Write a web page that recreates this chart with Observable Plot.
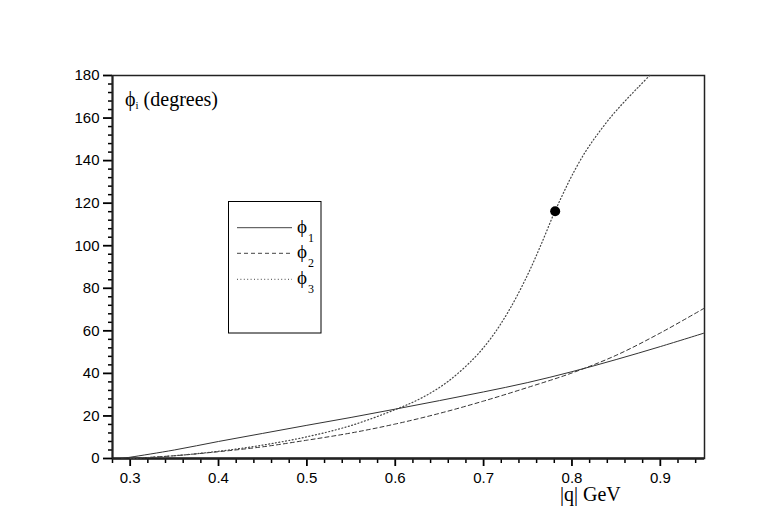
<!DOCTYPE html>
<html>
<head>
<meta charset="utf-8">
<script src="https://cdn.jsdelivr.net/npm/d3@7"></script>
<script src="https://cdn.jsdelivr.net/npm/@observablehq/plot@0.6"></script>
<style>
  html, body { margin: 0; padding: 0; background: #fff; }
  #chart { position: relative; width: 761px; height: 531px; }
</style>
</head>
<body>
<div id="chart"></div>
<script>
// |q| (GeV) sample points and phase values (degrees)
const q1   = [0.29, 0.30, 0.35, 0.40, 0.45, 0.50, 0.55, 0.60, 0.65, 0.70, 0.75, 0.80, 0.85, 0.90, 0.95];
const phi1 = [0.0,  0.6,  4.0,  8.0, 11.8, 15.6, 19.3, 23.2, 27.2, 31.3, 35.7, 40.8, 46.5, 52.6, 59.0];

const q2   = [0.30, 0.35, 0.40, 0.45, 0.50, 0.55, 0.60, 0.65, 0.70, 0.75, 0.80, 0.85, 0.90, 0.95];
const phi2 = [0.0,  1.3,  3.2,  5.5,  8.6, 12.0, 16.2, 21.2, 27.0, 33.4, 40.2, 48.5, 59.0, 70.7];

const q3   = [0.30, 0.35, 0.40, 0.45, 0.50, 0.55, 0.60, 0.63, 0.66, 0.69, 0.71, 0.73, 0.75, 0.765, 0.78, 0.79, 0.80, 0.815, 0.83, 0.845, 0.86, 0.875, 0.888];
const phi3 = [0.0,  1.3,  3.4,  6.3, 10.2, 15.5, 23.0, 28.5, 36.3, 47.5, 57.5, 70.5, 86.5, 100.5, 115.5, 124.5, 133.0, 144.0, 153.0, 161.0, 168.0, 174.5, 180.0];

const markQ = [0.781];
const markPhi = [116.2];

const xTicks = [0.3, 0.4, 0.5, 0.6, 0.7, 0.8, 0.9];
const yTicks = [0, 20, 40, 60, 80, 100, 120, 140, 160, 180];
const xMinor = d3.range(0.28, 0.951, 0.02).map(v => +v.toFixed(2)).filter(v => !xTicks.some(t => Math.abs(t - v) < 1e-6));
const yMinor = d3.range(0, 181, 4).filter(v => v % 20 !== 0);

const legendLabels = ["1", "2", "3"];

const s1 = q1.map((q, i) => ({q, phi: phi1[i]}));
const s2 = q2.map((q, i) => ({q, phi: phi2[i]}));
const s3 = q3.map((q, i) => ({q, phi: phi3[i]}));
const dots = markQ.map((q, i) => ({q, phi: markPhi[i]}));

const plot = Plot.plot({
  width: 761,
  height: 531,
  marginLeft: 112,
  marginRight: 57,
  marginTop: 75,
  marginBottom: 73,
  style: { fontFamily: "'Liberation Sans', Arial, sans-serif", fontSize: "15px", color: "#000", background: "#fff" },
  x: { domain: [0.28, 0.95] },
  y: { domain: [0, 180] },
  marks: [
    Plot.frame({ stroke: "#222", strokeWidth: 1.5 }),
    Plot.axisX({ ticks: xMinor, tickSize: 5, tickFormat: () => "", label: null, strokeWidth: 1.5 }),
    Plot.axisX({ ticks: xTicks, tickSize: 8, tickPadding: 6, tickFormat: d => d.toFixed(1), label: null, strokeWidth: 1.8, fontSize: 15 }),
    Plot.axisY({ ticks: yMinor, tickSize: 4, tickFormat: () => "", label: null, strokeWidth: 1.5 }),
    Plot.axisY({ ticks: yTicks, tickSize: 9, tickPadding: 4, label: null, strokeWidth: 1.8, fontSize: 15 }),
    Plot.ruleY([0], { stroke: "#222", strokeWidth: 2.5 }),
    Plot.ruleX([0.28], { stroke: "#222", strokeWidth: 2 }),
    Plot.line(s1, { x: "q", y: "phi", curve: "catmull-rom", stroke: "#333", strokeWidth: 1 }),
    Plot.line(s2, { x: "q", y: "phi", curve: "catmull-rom", stroke: "#333", strokeWidth: 1, strokeDasharray: "4,3" }),
    Plot.line(s3, { x: "q", y: "phi", curve: "catmull-rom", stroke: "#444", strokeWidth: 1.2, strokeDasharray: "1,2.4" }),
    Plot.dot(dots, { x: "q", y: "phi", r: 5, fill: "#000", stroke: "none" })
  ]
});

document.getElementById("chart").appendChild(plot);

// annotations and legend
const svg = d3.select(plot);
const serif = "'Liberation Serif', 'Times New Roman', serif";

const title = svg.append("text").attr("x", 125).attr("y", 106)
  .attr("text-anchor", "start")
  .attr("font-family", serif).attr("font-size", 20).attr("fill", "#000");
title.append("tspan").text("ϕ");
title.append("tspan").attr("font-size", 11).attr("dy", 3).text("i");
title.append("tspan").attr("dy", -3).attr("dx", 5).text("(degrees)");

svg.append("text").attr("x", 560).attr("y", 501)
  .attr("text-anchor", "start")
  .attr("font-family", serif).attr("font-size", 20).attr("fill", "#000")
  .text("|q| GeV");

const lg = svg.append("g");
lg.append("rect").attr("x", 228.5).attr("y", 201.5).attr("width", 92.5).attr("height", 131.5)
  .attr("fill", "#fff").attr("stroke", "#000").attr("stroke-width", 1);
const dashes = [null, "4,3", "1,2.4"];
const ly = [227.7, 253.3, 279.3];
legendLabels.forEach((lab, i) => {
  const l = lg.append("line").attr("x1", 237).attr("x2", 292).attr("y1", ly[i]).attr("y2", ly[i])
    .attr("stroke", "#444").attr("stroke-width", 1);
  if (dashes[i]) l.attr("stroke-dasharray", dashes[i]);
  const t = lg.append("text").attr("x", 297).attr("y", ly[i] + 5)
    .attr("text-anchor", "start")
    .attr("font-family", serif).attr("font-size", 19).attr("fill", "#000");
  t.append("tspan").text("ϕ");
  t.append("tspan").attr("font-size", 12).attr("dy", 9).attr("dx", 1).attr("fill", "#000").text(lab);
});
</script>
</body>
</html>
